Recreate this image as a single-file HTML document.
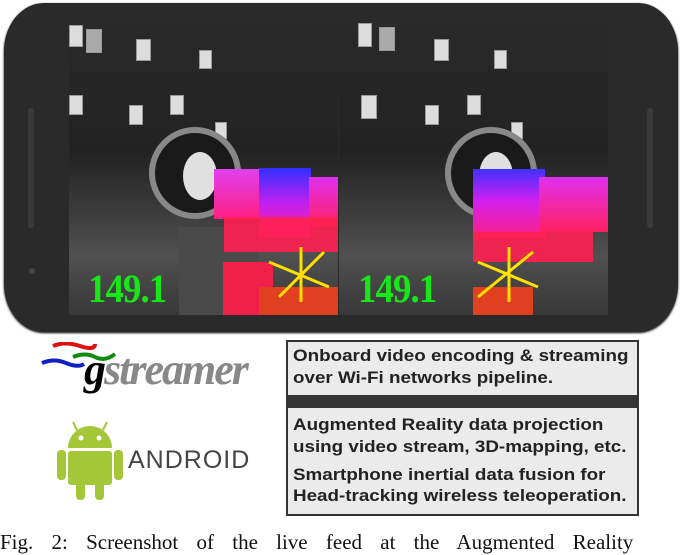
<!DOCTYPE html>
<html><head><meta charset="utf-8"><style>
body{margin:0;width:680px;height:550px;background:#fff;position:relative;overflow:hidden;font-family:"Liberation Sans",sans-serif}
.abs{position:absolute}
.phone{left:4px;top:3px;width:674px;height:329px;background:#2a2a2a;border-radius:40px/48px;box-shadow:0 1px 2px #000}
.panel{top:17px;height:298px;background:linear-gradient(180deg,#2a2a2a 0%,#222 45%,#353535 60%,#505050 80%,#383838 100%);overflow:hidden}
.post{position:absolute;background:#ddd;border:1px solid #999}
.num{position:absolute;color:#19e619;font-family:"Liberation Serif",serif;font-weight:bold;font-size:40px;transform:scaleX(0.92);transform-origin:left;letter-spacing:-1px}
.box{left:286px;width:349px;border:2px solid #333;background:#ebebeb;font-weight:bold;font-size:16.5px;color:#222}
.box div{position:absolute;left:5px;white-space:nowrap;transform:scaleX(1.14);transform-origin:left}
</style></head><body>
<div class="abs phone"></div>
<div class="abs" style="left:28px;top:108px;width:6px;height:120px;background:#3a3a3a;border-radius:3px"></div>
<div class="abs" style="left:647px;top:108px;width:6px;height:120px;background:#3a3a3a;border-radius:3px"></div>
<div class="abs" style="left:29px;top:268px;width:6px;height:6px;background:#444;border-radius:50%"></div>

<div class="abs panel" style="left:69px;width:269px">
 <div class="post" style="left:0;top:8px;width:12px;height:20px"></div>
 <div class="post" style="left:17px;top:12px;width:14px;height:22px;background:#aaa"></div>
 <div class="post" style="left:67px;top:22px;width:13px;height:20px"></div>
 <div class="post" style="left:130px;top:33px;width:11px;height:17px"></div>
 <div class="post" style="left:0;top:78px;width:12px;height:18px"></div>
 <div class="post" style="left:60px;top:88px;width:12px;height:18px"></div>
 <div class="post" style="left:101px;top:78px;width:12px;height:18px"></div>
 <div class="post" style="left:146px;top:105px;width:10px;height:15px"></div>
 <div class="abs" style="left:80px;top:110px;width:80px;height:80px;border-radius:50%;background:#1a1a1a;border:6px solid #888"></div>
 <div class="abs" style="left:114px;top:135px;width:34px;height:48px;border-radius:50%;background:#e0e0e0"></div>
 <div class="abs" style="left:110px;top:210px;width:80px;height:88px;background:#4a4a4a"></div>
 <div class="abs" style="left:145px;top:152px;width:50px;height:50px;background:linear-gradient(#e040f0,#ff2080)"></div>
 <div class="abs" style="left:190px;top:151px;width:52px;height:70px;background:linear-gradient(#3030ff,#c020f0 50%,#ff20a0)"></div>
 <div class="abs" style="left:240px;top:160px;width:29px;height:50px;background:linear-gradient(#e030f0,#ff2060)"></div>
 <div class="abs" style="left:155px;top:200px;width:114px;height:35px;background:#ff2050;opacity:.9"></div>
 <div class="abs" style="left:154px;top:245px;width:50px;height:53px;background:#f0204a"></div>
 <div class="abs" style="left:190px;top:270px;width:79px;height:28px;background:#e04020"></div>
 <svg class="abs" style="left:190px;top:225px" width="80" height="60"><g stroke="#ffe000" stroke-width="3"><line x1="10" y1="20" x2="70" y2="45"/><line x1="65" y1="10" x2="20" y2="55"/><line x1="42" y1="5" x2="42" y2="60"/></g></svg>
 <div class="num" style="left:19px;top:248px">149.1</div>
</div>
<div class="abs panel" style="left:339px;width:269px">
 <div class="post" style="left:19px;top:6px;width:12px;height:22px"></div>
 <div class="post" style="left:40px;top:10px;width:14px;height:22px;background:#aaa"></div>
 <div class="post" style="left:95px;top:22px;width:13px;height:20px"></div>
 <div class="post" style="left:155px;top:33px;width:11px;height:17px"></div>
 <div class="post" style="left:22px;top:78px;width:14px;height:22px"></div>
 <div class="post" style="left:86px;top:88px;width:12px;height:18px"></div>
 <div class="post" style="left:128px;top:78px;width:12px;height:18px"></div>
 <div class="post" style="left:172px;top:105px;width:10px;height:15px"></div>
 <div class="abs" style="left:106px;top:110px;width:80px;height:80px;border-radius:50%;background:#1a1a1a;border:6px solid #888"></div>
 <div class="abs" style="left:140px;top:135px;width:34px;height:48px;border-radius:50%;background:#e0e0e0"></div>
 <div class="abs" style="left:134px;top:152px;width:72px;height:70px;background:linear-gradient(#4030ff,#d020f0 45%,#ff2080)"></div>
 <div class="abs" style="left:200px;top:160px;width:69px;height:55px;background:linear-gradient(#e030f0,#ff2060)"></div>
 <div class="abs" style="left:134px;top:215px;width:120px;height:30px;background:#ff2050;opacity:.9"></div>
 <div class="abs" style="left:134px;top:270px;width:60px;height:28px;background:#e04020"></div>
 <svg class="abs" style="left:134px;top:225px" width="80" height="60"><g stroke="#ffe000" stroke-width="3"><line x1="5" y1="20" x2="65" y2="45"/><line x1="60" y1="10" x2="5" y2="55"/><line x1="36" y1="5" x2="36" y2="60"/></g></svg>
 <div class="num" style="left:19px;top:248px">149.1</div>
</div>

<svg class="abs" style="left:40px;top:342px" width="80" height="40">
 <path d="M13 4 Q25 -1 40 4 T55 2" stroke="#e01010" stroke-width="4" fill="none"/>
 <path d="M33 15 Q45 10 55 15 T75 12" stroke="#108a10" stroke-width="4" fill="none"/>
 <path d="M2 21 Q14 16 26 21 T44 22" stroke="#1020c0" stroke-width="4" fill="none"/>
</svg>
<div class="abs" style="left:84px;top:344px;font-family:'Liberation Serif',serif;font-style:italic;font-weight:bold;font-size:44px;letter-spacing:-2px;color:#888;white-space:nowrap"><span style="color:#000">g</span>streamer</div>

<svg class="abs" style="left:55px;top:420px" width="70" height="80">
 <g fill="#a4c639"><path d="M13 28 A22 22 0 0 1 57 28 Z"/><rect x="13" y="31" width="44" height="34" rx="3"/><rect x="2" y="30" width="9" height="30" rx="4"/><rect x="59" y="30" width="9" height="30" rx="4"/><rect x="21" y="60" width="9" height="20" rx="4"/><rect x="40" y="60" width="9" height="20" rx="4"/></g>
 <g stroke="#a4c639" stroke-width="2"><line x1="22" y1="10" x2="18" y2="2"/><line x1="48" y1="10" x2="52" y2="2"/></g>
 <circle cx="26" cy="18" r="2.5" fill="#fff"/><circle cx="44" cy="18" r="2.5" fill="#fff"/>
</svg>
<div class="abs" style="left:128px;top:446px;font-size:25px;letter-spacing:1px;color:#444;white-space:nowrap">ANDROID</div>

<div class="abs box" style="top:340px;height:53px">
 <div style="top:5px">Onboard video encoding &amp; streaming</div>
 <div style="top:27px">over Wi-Fi networks pipeline.</div>
</div>
<div class="abs" style="left:286px;top:395px;width:353px;height:13px;background:#333"></div>
<div class="abs box" style="top:408px;height:106px;border-top:none">
 <div style="top:8px">Augmented Reality data projection</div>
 <div style="top:30px">using video stream, 3D-mapping, etc.</div>
 <div style="top:58px">Smartphone inertial data fusion for</div>
 <div style="top:79px">Head-tracking wireless teleoperation.</div>
</div>

<div class="abs" style="left:0;top:530px;width:700px;font-family:'Liberation Serif',serif;font-size:21px;color:#111;white-space:nowrap;word-spacing:13px">Fig. 2: Screenshot of the live feed at the Augmented Reality</div>
</body></html>
